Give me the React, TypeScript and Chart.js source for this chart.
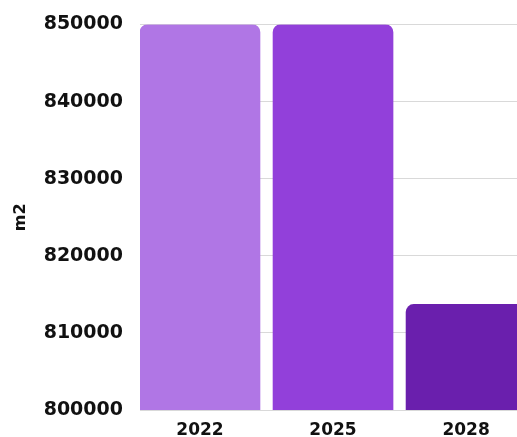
import React, { useEffect, useRef } from "react";
import { Chart, registerables } from "chart.js";

Chart.register(...registerables);

const categories = ["2022", "2025", "2028"];
const values = [850000, 850000, 813700];
const barColors = ["#b076e5", "#9240da", "#6a1fad"];
const yTicks = [800000, 810000, 820000, 830000, 840000, 850000];
const yTitle = "m2";

export default function App() {
  const ref = useRef<HTMLCanvasElement | null>(null);

  useEffect(() => {
    if (!ref.current) return;
    const chart = new Chart(ref.current, {
      type: "bar",
      data: {
        datasets: [
          {
            data: values.map((v, i) => ({ x: i, y: v })),
            backgroundColor: barColors,
            borderRadius: 8,
            borderSkipped: "start",
            barThickness: 120,
          },
        ],
      },
      options: {
        responsive: false,
        animation: false,
        maintainAspectRatio: false,
        layout: { padding: { left: 0, right: 0, top: 24.5, bottom: 0 } },
        plugins: { legend: { display: false }, tooltip: { enabled: false } },
        scales: {
          x: {
            type: "linear",
            offset: false,
            min: -0.451,
            max: 2.383,
            grid: { display: false, drawTicks: false },
            border: { display: false },
            afterFit: (s: any) => {
              s.height = 27;
              s.paddingLeft = 0;
              s.paddingRight = 0;
            },
            ticks: {
              stepSize: 1,
              includeBounds: false,
              padding: 10,
              color: "#111",
              font: { family: "DejaVu Sans", size: 17, weight: "bold" },
              callback: (v: any) =>
                Number.isInteger(v) && categories[v] !== undefined ? categories[v] : "",
            },
          },
          y: {
            min: yTicks[0],
            max: yTicks[yTicks.length - 1],
            afterFit: (s: any) => {
              s.width = 140;
              s.paddingTop = 0;
              s.paddingBottom = 0;
            },
            afterBuildTicks: (s: any) => {
              s.ticks = yTicks.map((v) => ({ value: v }));
            },
            grid: { color: "#d9d9d9", drawTicks: false },
            border: { display: false },
            title: {
              display: true,
              text: yTitle,
              color: "#111",
              padding: { top: 11, bottom: 0 },
              font: { family: "DejaVu Sans", size: 16, weight: "bold" },
            },
            ticks: {
              padding: 17,
              color: "#111",
              font: { family: "DejaVu Sans", size: 19, weight: "bold" },
              callback: (v: any) => String(v),
            },
          },
        },
      },
    });
    return () => chart.destroy();
  }, []);

  return (
    <div
      style={{
        position: "fixed",
        left: 0,
        top: 0,
        width: 517,
        height: 437,
        overflow: "hidden",
        background: "#fff",
      }}
    >
      <canvas ref={ref} width={517} height={437} style={{ display: "block" }} />
    </div>
  );
}
